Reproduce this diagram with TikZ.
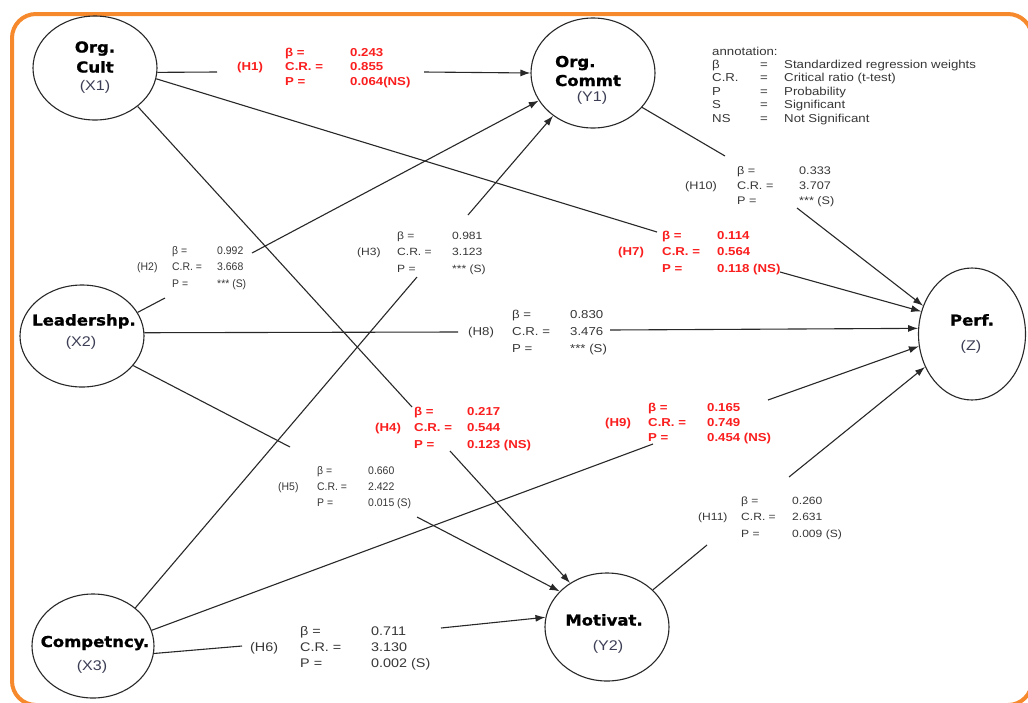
\documentclass[tikz,border=0pt]{standalone}
\usepackage{fontspec}
\setmainfont{Liberation Sans}[FakeStretch=1.15]
\newfontfamily\condfont{Liberation Sans}[FakeStretch=0.95]
\newfontfamily\titlefont{DejaVu Sans}[FakeStretch=1.1, BoldFeatures={FakeBold=1.2}]
\usetikzlibrary{shapes.geometric,arrows.meta}
\definecolor{lineC}{RGB}{40,40,40}
\definecolor{redC}{RGB}{250,30,30}
\definecolor{grayT}{RGB}{55,55,55}
\definecolor{subC}{RGB}{60,62,85}
\definecolor{frameC}{RGB}{247,137,45}
\newcommand\threerows[3]{\vtop{\hbox{#1}\hbox{#2}\hbox{#3}}}
\newcommand\hypblock[8]{%
  \node[#2] (#1n) at (#3,#6) {\threerows{}{#7}{}};
  \node[#2] (#1k) at (#4,#6) {\threerows{β =}{C.R. =}{P =}};
  \node[#2] (#1v) at (#5,#6) {#8};}
\begin{document}
\begin{tikzpicture}[x=1pt,y=-1pt,
  latent/.style={ellipse, draw=lineC, line width=1.1pt, inner sep=0pt},
  conn/.style={draw=lineC, line width=1.1pt},
  arr/.style={conn, -{Latex[length=10pt,width=7pt]}},
  ttl/.style={inner sep=0pt, anchor=base, font=\titlefont\fontsize{15}{18}\selectfont\bfseries},
  sub/.style={inner sep=0pt, text=subC, font=\fontsize{14}{17}\selectfont},
  redlab/.style={inner sep=0pt, anchor=base west, text=redC, font=\fontsize{11.5}{#1}\selectfont\bfseries},
  graylab/.style 2 args={inner sep=0pt, anchor=base west, text=grayT, font=\fontsize{#1}{#2}\selectfont},
  condlab/.style={inner sep=0pt, anchor=base west, text=grayT, font=\condfont\fontsize{11}{#1}\selectfont},
  ann/.style={inner sep=0pt, anchor=base west, text=grayT, font=\fontsize{11.5}{13.4}\selectfont}]
\useasboundingbox (0,0) rectangle (1028,702);
\fill[white] (0,0) rectangle (1028,702);
\draw[frameC, line width=4pt, rounded corners=24pt] (12,14) rectangle (1032,705);

% latent variables
\node[latent, minimum width=124pt, minimum height=104pt] (X1) at (95,68) {};
\node[latent, minimum width=124pt, minimum height=110pt] (Y1) at (593,73) {};
\node[latent, minimum width=124pt, minimum height=102pt] (X2) at (82,336) {};
\node[latent, minimum width=107pt, minimum height=132pt] (Z) at (972,334) {};
\node[latent, minimum width=124pt, minimum height=108pt] (Y2) at (607,627) {};
\node[latent, minimum width=122pt, minimum height=104pt] (X3) at (93,646) {};

% titles
\node[ttl] (X1a) at (95,52.5) {Org.};
\node[ttl] (X1b) at (95,72.5) {Cult};
\node[sub] (X1c) at (95,87) {(X1)};
\node[ttl, anchor=base west] (Y1a) at (555,67) {Org.};
\node[ttl, anchor=base west] (Y1b) at (555,86) {Commt};
\node[sub] (Y1c) at (592,98) {(Y1)};
\node[ttl] (X2a) at (84,325.5) {Leadershp.};
\node[sub] (X2c) at (81,343) {(X2)};
\node[ttl] (Za) at (972,325.5) {Perf.};
\node[sub] (Zc) at (971,347) {(Z)};
\node[ttl] (Y2a) at (604,625.5) {Motivat.};
\node[sub] (Y2c) at (608,647) {(Y2)};
\node[ttl] (X3a) at (95,647) {Competncy.};
\node[sub] (X3c) at (92,667) {(X3)};

% gap coordinates
\coordinate (h1a) at (217,72);  \coordinate (h1b) at (424,72);
\coordinate (h2a) at (165,298); \coordinate (h2b) at (252,253);
\coordinate (h3a) at (417,277); \coordinate (h3b) at (468,215);
\coordinate (h4a) at (412,407); \coordinate (h4b) at (450,451);
\coordinate (h5a) at (290,447); \coordinate (h5b) at (417,517);
\coordinate (h6a) at (242,646); \coordinate (h6b) at (441,628);
\coordinate (h7a) at (657,232); \coordinate (h7b) at (780,272);
\coordinate (h8a) at (458,332); \coordinate (h8b) at (610,330);
\coordinate (h9a) at (653,444); \coordinate (h9b) at (768,400);
\coordinate (h10a) at (725,156); \coordinate (h10b) at (797,208);
\coordinate (h11a) at (707,545); \coordinate (h11b) at (789,477);

% connectors
\draw[conn] (X1.-4) -- (h1a);  \draw[arr] (h1b) -- (Y1.180);
\draw[conn] (X2.23) -- (h2a);  \draw[arr] (h2b) -- (Y1.207);
\draw[conn] (X3.42) -- (h3a);  \draw[arr] (h3b) -- (Y1.227);
\draw[conn] (X1.-42) -- (h4a); \draw[arr] (h4b) -- (Y2.130);
\draw[conn] (X2.-30) -- (h5a); \draw[arr] (h5b) -- (Y2.143);
\draw[conn] (X3.-7) -- (h6a);  \draw[arr] (h6b) -- (Y2.171);
\draw[conn] (X3.15) -- (h9a);  \draw[arr] (h9b) -- (Z.193);
\draw[conn] (X1.-10) -- (h7a); \draw[arr] (h7b) -- (Z.156);
\draw[conn] (X2.3) -- (h8a);   \draw[arr] (h8b) -- (Z.174);
\draw[conn] (Y1.-35) -- (h10a); \draw[arr] (h10b) -- (Z.150);
\draw[conn] (Y2.39) -- (h11a); \draw[arr] (h11b) -- (Z.215);

% labels
\hypblock{t1}{redlab=14.5}{237}{285}{350}{56}{(H1)}{\threerows{0.243}{0.855}{0.064(NS)}}
\hypblock{t2}{condlab=16.5}{137}{172}{217}{254}{(H2)}{\threerows{0.992}{3.668}{*** (S)}}
\hypblock{t3}{graylab={10.5}{16.5}}{357}{397}{452}{239}{(H3)}{\threerows{0.981}{3.123}{*** (S)}}
\hypblock{t4}{redlab=16.5}{375}{414}{467}{415}{(H4)}{\threerows{0.217}{0.544}{0.123 (NS)}}
\hypblock{t5}{condlab=16}{278}{317}{368}{474}{(H5)}{\threerows{0.660}{2.422}{0.015 (S)}}
\hypblock{t6}{graylab={12.5}{16}}{250}{300}{371}{635.5}{(H6)}{\threerows{0.711}{3.130}{0.002 (S)}}
\hypblock{t7}{redlab=16.5}{618}{662}{717}{239}{(H7)}{\threerows{0.114}{0.564}{0.118 (NS)}}
\hypblock{t8}{graylab={11.5}{17}}{468}{512}{570}{318}{(H8)}{\threerows{0.830}{3.476}{*** (S)}}
\hypblock{t9}{redlab=15}{605}{648}{707}{411}{(H9)}{\threerows{0.165}{0.749}{0.454 (NS)}}
\hypblock{t10}{graylab={11}{15}}{685}{737}{799}{174}{(H10)}{\threerows{0.333}{3.707}{*** (S)}}
\hypblock{t11}{graylab={10.5}{16.5}}{698}{741}{792}{504}{(H11)}{\threerows{0.260}{2.631}{0.009 (S)}}

% annotation
\node[ann] (annA) at (712,55) {\vtop{\hbox{annotation:}\hbox{β}\hbox{C.R.}\hbox{P}\hbox{S}\hbox{NS}}};
\node[ann] (annB) at (760,55) {\vtop{\hbox{}\hbox{=}\hbox{=}\hbox{=}\hbox{=}\hbox{=}}};
\node[ann] (annC) at (784,55) {\vtop{\hbox{}\hbox{Standardized regression weights}\hbox{Critical ratio (t-test)}\hbox{Probability}\hbox{Significant}\hbox{Not Significant}}};
\end{tikzpicture}
\end{document}
